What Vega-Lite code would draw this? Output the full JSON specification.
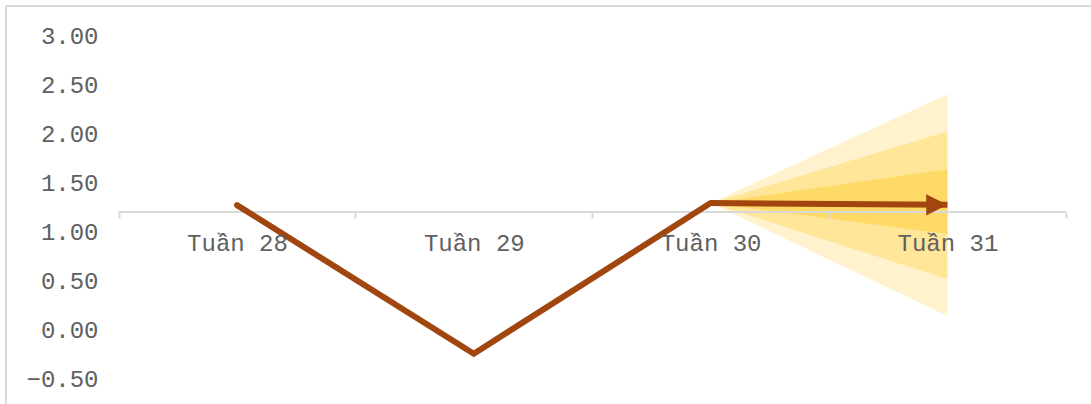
{
  "$schema": "https://vega.github.io/schema/vega-lite/v6.json",
  "width": 1085,
  "height": 398,
  "autosize": {"type": "none"},
  "padding": {"left": 6, "top": 6, "right": 0, "bottom": 0},
  "background": "white",
  "config": {
    "view": {"stroke": null},
    "font": "Liberation Mono",
    "axis": {"labelFont": "Liberation Mono", "labelColor": "#606060", "labelFontSize": 24}
  },
  "datasets": {
    "main": [
      {"week": 28, "value": 1.279},
      {"week": 29, "value": -0.235},
      {"week": 30, "value": 1.30}
    ],
    "arrow": [
      {"week": 30, "value": 1.30},
      {"week": 31, "value": 1.282}
    ],
    "fan": [
      {"band": "outer", "week": 30, "lo": 1.30, "hi": 1.30},
      {"band": "outer", "week": 31, "lo": 0.148, "hi": 2.41},
      {"band": "middle", "week": 30, "lo": 1.30, "hi": 1.30},
      {"band": "middle", "week": 31, "lo": 0.525, "hi": 2.03},
      {"band": "inner", "week": 30, "lo": 1.30, "hi": 1.30},
      {"band": "inner", "week": 31, "lo": 0.984, "hi": 1.646}
    ],
    "axisline": [
      {"week": 27.5, "value": 1.21},
      {"week": 31.5, "value": 1.21}
    ],
    "frame": [
      {"week": 27.0245, "value": 3.309}
    ]
  },
  "layer": [
    {
      "data": {"name": "fan"},
      "transform": [{"filter": "datum.band === 'outer'"}],
      "mark": {"type": "area", "color": "#FFF2CC", "opacity": 1},
      "encoding": {
        "x": {
          "field": "week", "type": "quantitative",
          "scale": {"domain": [27.0245, 31.6064], "nice": false, "zero": false},
          "axis": {
            "orient": "bottom",
            "offset": -192,
            "zindex": 1,
            "values": [27.5, 28, 28.5, 29, 29.5, 30, 30.5, 31, 31.5],
            "domain": false,
            "grid": false,
            "title": null,
            "tickSize": 6,
            "tickWidth": 2,
            "tickColor": "#D9D9D9",
            "tickOpacity": {"condition": {"test": "datum.value % 1 === 0", "value": 0}, "value": 1},
            "labelExpr": "datum.value % 1 === 0 ? 'Tuần ' + datum.value : ''",
            "labelBaseline": "middle",
            "labelPadding": 25,
            "labelOverlap": false,
            "labelFlush": false,
            "labelBound": false
          }
        },
        "y": {
          "field": "hi", "type": "quantitative",
          "scale": {"domain": [-0.748, 3.309], "nice": false, "zero": false},
          "axis": {
            "orient": "left",
            "offset": -92,
            "zindex": 1,
            "values": [-0.5, 0, 0.5, 1, 1.5, 2, 2.5, 3],
            "format": ".2f",
            "domain": false,
            "ticks": false,
            "tickSize": 0,
            "grid": false,
            "title": null,
            "labelAlign": "right",
            "labelBaseline": "middle",
            "labelPadding": 0,
            "labelOverlap": false,
            "labelFlush": false,
            "labelBound": false
          }
        },
        "y2": {"field": "lo"}
      }
    },
    {
      "data": {"name": "fan"},
      "transform": [{"filter": "datum.band === 'middle'"}],
      "mark": {"type": "area", "color": "#FFE699", "opacity": 1},
      "encoding": {
        "x": {"field": "week", "type": "quantitative"},
        "y": {"field": "hi", "type": "quantitative"},
        "y2": {"field": "lo"}
      }
    },
    {
      "data": {"name": "fan"},
      "transform": [{"filter": "datum.band === 'inner'"}],
      "mark": {"type": "area", "color": "#FFD966", "opacity": 1},
      "encoding": {
        "x": {"field": "week", "type": "quantitative"},
        "y": {"field": "hi", "type": "quantitative"},
        "y2": {"field": "lo"}
      }
    },
    {
      "data": {"name": "axisline"},
      "mark": {"type": "line", "color": "#D9D9D9", "strokeWidth": 2},
      "encoding": {
        "x": {"field": "week", "type": "quantitative"},
        "y": {"field": "value", "type": "quantitative"}
      }
    },
    {
      "data": {"name": "main"},
      "mark": {"type": "line", "color": "#A1460E", "strokeWidth": 6, "strokeCap": "round", "strokeJoin": "miter"},
      "encoding": {
        "x": {"field": "week", "type": "quantitative"},
        "y": {"field": "value", "type": "quantitative"}
      }
    },
    {
      "data": {"name": "arrow"},
      "mark": {"type": "line", "color": "#A1460E", "strokeWidth": 6, "strokeCap": "butt"},
      "encoding": {
        "x": {"field": "week", "type": "quantitative"},
        "y": {"field": "value", "type": "quantitative"}
      }
    },
    {
      "data": {"name": "arrow"},
      "transform": [{"filter": "datum.week === 31"}],
      "mark": {"type": "point", "shape": "M -2 -1 L 0 0 L -2 1 Z", "size": 450, "filled": true, "color": "#A1460E", "opacity": 1, "strokeWidth": 0},
      "encoding": {
        "x": {"field": "week", "type": "quantitative"},
        "y": {"field": "value", "type": "quantitative"}
      }
    },
    {
      "data": {"name": "frame"},
      "mark": {"type": "rule", "color": "#D9D9D9", "strokeWidth": 2},
      "encoding": {"y": {"field": "value", "type": "quantitative"}}
    },
    {
      "data": {"name": "frame"},
      "mark": {"type": "rule", "color": "#D9D9D9", "strokeWidth": 2},
      "encoding": {"x": {"field": "week", "type": "quantitative"}}
    }
  ]
}
